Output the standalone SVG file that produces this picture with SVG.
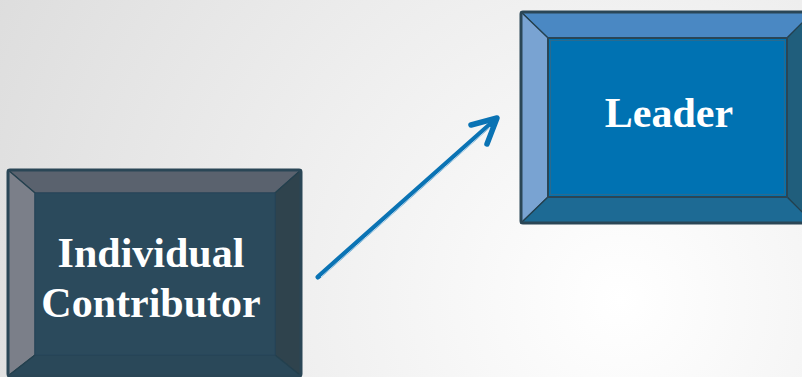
<svg xmlns="http://www.w3.org/2000/svg" width="802" height="377" viewBox="0 0 802 377">
<defs>
<radialGradient id="bg" cx="620" cy="300" r="760" gradientUnits="userSpaceOnUse">
<stop offset="0" stop-color="#ffffff"/>
<stop offset="1" stop-color="#dadada"/>
</radialGradient>
</defs>
<style>
.edge{stroke:#24404e;stroke-width:1.2;stroke-linejoin:round}
.outer{fill:none;stroke:#2a4656;stroke-width:3;stroke-linejoin:round}
.lbl{font-family:"Liberation Serif","Times New Roman",serif;font-weight:bold;font-size:42px;fill:#ffffff;text-anchor:middle}
.arrow{fill:none;stroke:#0a73b4;stroke-linecap:round;stroke-linejoin:round}
</style>
<rect width="802" height="377" fill="url(#bg)"/>

<g id="node-individual-contributor">
<rect x="8" y="170" width="293" height="206" fill="#2b4a5c"/>
<polygon class="edge" points="8,170 301,170 275,193 35,193" fill="#5a626e"/>
<polygon class="edge" points="8,170 35,193 35,355 8,376" fill="#7b7f89"/>
<polygon class="edge" points="301,170 301,376 275,355 275,193" fill="#2f434d"/>
<polygon class="edge" points="8,376 35,355 275,355 301,376" fill="#2a4859"/>
<rect x="35" y="193" width="240" height="162" fill="#2b4a5c" stroke="#26455a" stroke-width="1"/>
<rect class="outer" x="8" y="170" width="293" height="206" rx="2"/>
<text class="lbl" x="151" y="267">Individual</text>
<text class="lbl" x="151" y="317">Contributor</text>
</g>

<g id="node-leader">
<rect x="521" y="12" width="292" height="211" fill="#0072b2"/>
<polygon class="edge" points="521,12 813,12 787,38 548,38" fill="#4a88c3"/>
<polygon class="edge" points="521,12 548,38 548,197 521,223" fill="#79a3d2"/>
<polygon class="edge" points="813,12 813,223 787,197 787,38" fill="#205e7c"/>
<polygon class="edge" points="521,223 548,197 787,197 813,223" fill="#1d6a94"/>
<rect x="548" y="38" width="239" height="159" fill="#0072b2" stroke="#2a4656" stroke-width="2"/>
<rect x="550.5" y="40.5" width="234" height="154" fill="none" stroke="#2a6a8e" stroke-width="1"/>
<rect class="outer" x="521" y="12" width="292" height="211" rx="2"/>
<text class="lbl" x="669" y="127">Leader</text>
</g>

<g id="connectors">
<g id="edge-ic-to-leader">
<line class="arrow" x1="318" y1="277" x2="495" y2="120" stroke-width="5"/>
<line x1="321" y1="277" x2="490" y2="127" stroke="#e8f2fa" stroke-width="0.8"/>
<polyline class="arrow" points="471,125 497,118 487,144" stroke-width="5.5"/>
</g>
</g>
</svg>
